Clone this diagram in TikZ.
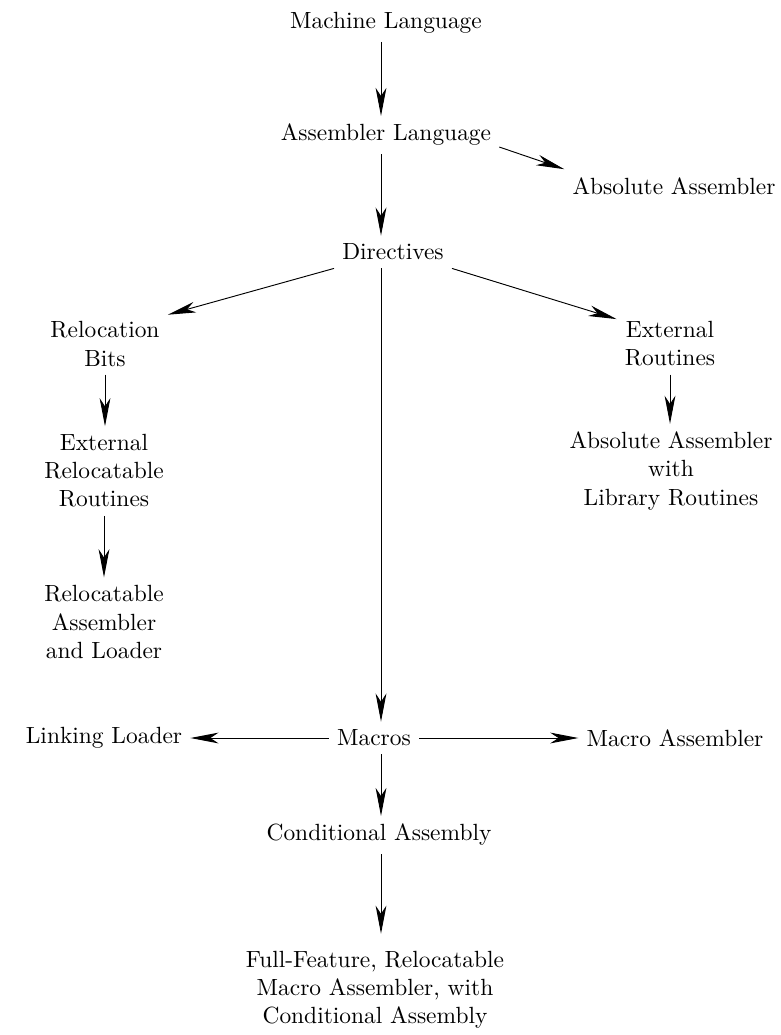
\documentclass[tikz,border=0pt]{standalone}
\usepackage{tikz}
\usetikzlibrary{arrows.meta}

\begin{document}
\begin{tikzpicture}[x=0.015cm,y=-0.015cm,every node/.style={align=center},
  >={Stealth[length=12pt,width=4.6pt,inset=3.5pt]},
  link/.style={->,thin}]

  \useasboundingbox (0,0) rectangle (780,1035);

  % x of the middle line of arrows
  \coordinate (trunk) at (381,0);

  % middle column
  \node (ml) at (386,23) {Machine Language};
  \node (al) at (386,135) {Assembler Language};
  \node (dir) at (393,252) {Directives};
  \node (mac) at (374,738) {Macros};
  \node (cond) at (379,835) {Conditional Assembly};
  \node (full) at (375,990) {Full-Feature, Relocatable\\Macro Assembler, with\\Conditional Assembly};

  % left column
  \node (rb) at (105,344) {Relocation\\Bits};
  \node (erl) at (104,471) {External\\Relocatable\\Routines};
  \node (rl) at (104,622) {Relocatable\\Assembler\\and Loader};
  \node (ll) at (104,738) {Linking Loader};

  % right column
  \node (abs) at (674,186) {Absolute Assembler};
  \node (er) at (670,344) {External\\Routines};
  \node (lib) at (671,471) {Absolute Assembler\\with\\Library Routines};
  \node (ma) at (675,738) {Macro Assembler};

  \draw[link] (ml.south -| trunk) -- (al.north -| trunk);
  \draw[link] (al.south -| trunk) -- (dir.north -| trunk);
  \draw[link] ([yshift=3pt]al.south east) -- (abs.north west);
  \draw[link] (dir.south west) -- (rb.25);
  \draw[link] (dir.south east) -- (er.155);
  \draw[link] (dir.south -| trunk) -- (mac.north -| trunk);
  \draw[link] (rb.south) -- (rb.south |- erl.north);
  \draw[link] (erl.south) -- (erl.south |- rl.north);
  \draw[link] (er.south) -- (er.south |- lib.north);
  \draw[link] (mac.west) -- (ll.east);
  \draw[link] (mac.east) -- (ma.west);
  \draw[link] (mac.south -| trunk) -- (cond.north -| trunk);
  \draw[link,shorten >=4pt] (cond.south -| trunk) -- (full.north -| trunk);
\end{tikzpicture}
\end{document}
